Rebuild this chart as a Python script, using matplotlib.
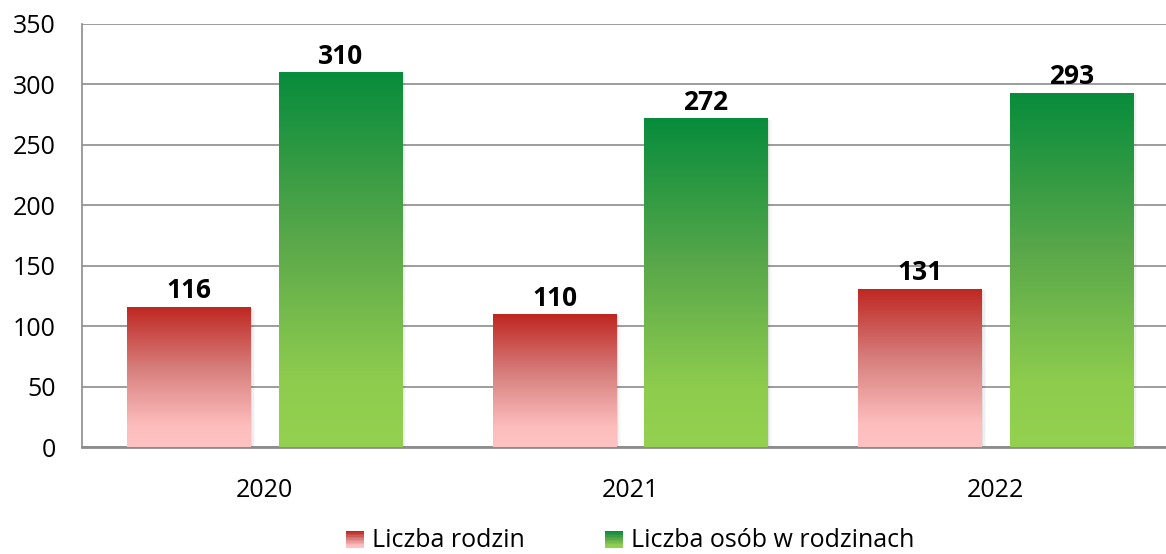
import numpy as np
import matplotlib
matplotlib.use("Agg")
import matplotlib.pyplot as plt
from matplotlib.colors import LinearSegmentedColormap
from matplotlib.legend_handler import HandlerBase
from matplotlib.patches import Rectangle

# -----------------------------
# Data
# -----------------------------
years = ["2020", "2021", "2022"]
families = [116, 110, 131]
persons = [310, 272, 293]
series_names = ["Liczba rodzin", "Liczba osób w rodzinach"]

plt.rcParams['font.family'] = ['Open Sans', 'DejaVu Sans']

# gradient stops (position from bottom, colour)
RED_STOPS = [(0.0, "#ffc2c2"), (0.15, "#fdbdbd"), (0.55, "#d7807e"), (1.0, "#bf2620")]
GREEN_STOPS = [(0.0, "#94d150"), (0.18, "#8ecc4e"), (0.55, "#5aa84a"), (1.0, "#078c3c")]
GRID = "#8c8c8c"

fig = plt.figure(figsize=(11.66, 5.54), dpi=100)
ax = fig.add_axes([0.0703, 0.1931, 0.9297, 0.7636])

x = np.arange(len(years))
width = 0.337
offset = 0.207


def gradient_bars(bars, stops):
    cmap = LinearSegmentedColormap.from_list("g", stops)
    grad = np.linspace(0, 1, 256).reshape(-1, 1)
    for b in bars:
        x0, y0 = b.get_x(), b.get_y()
        w, h = b.get_width(), b.get_height()
        # soft shadow to the right / below
        for k, a in enumerate([0.06, 0.04, 0.025]):
            d = 0.004 * (k + 1)
            ax.add_patch(Rectangle((x0 + d, y0 - 0.6 * (k + 1)), w, h, facecolor="black",
                                   alpha=a, edgecolor="none", zorder=2))
        im = ax.imshow(grad, extent=[x0, x0 + w, y0, y0 + h], origin="lower",
                       aspect="auto", cmap=cmap, zorder=3, interpolation="bicubic")
        im.set_clip_path(b)


bars_f = ax.bar(x - offset, families, width, color="none", zorder=3)
bars_p = ax.bar(x + offset, persons, width, color="none", zorder=3)
gradient_bars(bars_f, RED_STOPS)
gradient_bars(bars_p, GREEN_STOPS)

for bars, vals in [(bars_f, families), (bars_p, persons)]:
    for b, v in zip(bars, vals):
        ax.text(b.get_x() + b.get_width() / 2, v + 2, str(v), ha="center", va="bottom",
                fontsize=19, fontweight="bold", color="black", zorder=5)

ax.set_xlim(-0.5, 2.466)
ax.set_ylim(0, 350)
ax.set_yticks(range(0, 351, 50))
ax.set_xticks(x)
ax.set_xticklabels(years)
ax.tick_params(axis="both", length=0, labelsize=18, colors="black")
ax.tick_params(axis="y", pad=19)
ax.tick_params(axis="x", pad=22)

ax.yaxis.grid(True, color=GRID, linewidth=1.2, zorder=0)
ax.set_axisbelow(True)
for s in ["top", "right"]:
    ax.spines[s].set_visible(False)
ax.spines["left"].set_color(GRID)
ax.spines["left"].set_linewidth(1.2)
ax.spines["bottom"].set_color(GRID)
ax.spines["bottom"].set_linewidth(2)


# -----------------------------
# Legend with gradient swatches
# -----------------------------
class GradientHandler(HandlerBase):
    def __init__(self, stops):
        super().__init__()
        self.stops = stops

    def create_artists(self, legend, orig_handle, xdescent, ydescent, width, height, fontsize, trans):
        cmap = LinearSegmentedColormap.from_list("g", self.stops)
        n = 12
        side = height * 1.0
        x0 = -xdescent + (width - side) / 2
        y0 = -ydescent - (side - height) / 2 - 1
        arts = []
        for i in range(n):
            arts.append(Rectangle((x0, y0 + side * i / n), side, side / n + 0.2,
                                  facecolor=cmap(i / (n - 1)), edgecolor="none", transform=trans))
        return arts


h1 = Rectangle((0, 0), 1, 1)
h2 = Rectangle((0, 0), 1, 1)
ax.legend([h1, h2], series_names, loc="upper center", bbox_to_anchor=(0.5055, -0.15),
          ncol=2, frameon=False, fontsize=18, handlelength=0.75, handletextpad=0.3,
          columnspacing=3.2, borderaxespad=0.3,
          handler_map={h1: GradientHandler(RED_STOPS), h2: GradientHandler(GREEN_STOPS)})

fig.savefig("out.png", dpi=100)
